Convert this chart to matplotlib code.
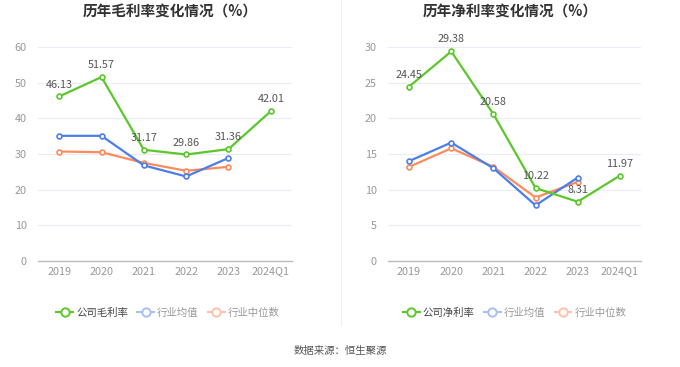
import matplotlib
matplotlib.use("Agg")
import matplotlib.pyplot as plt
from matplotlib.lines import Line2D

plt.rcParams['font.family'] = ['Noto Sans CJK SC', 'DejaVu Sans']

years = ["2019", "2020", "2021", "2022", "2023", "2024Q1"]

gross_company = [46.13, 51.57, 31.17, 29.86, 31.36, 42.01]
gross_avg = [35.1, 35.1, 26.8, 23.7, 28.9]
gross_median = [30.7, 30.5, 27.5, 25.3, 26.4]

net_company = [24.45, 29.38, 20.58, 10.22, 8.31, 11.97]
net_avg = [14.0, 16.6, 13.0, 7.8, 11.7]
net_median = [13.2, 15.8, 13.2, 8.9, 11.1]

titles = ["历年毛利率变化情况（%）", "历年净利率变化情况（%）"]
legend_names = [["公司毛利率", "行业均值", "行业中位数"],
                ["公司净利率", "行业均值", "行业中位数"]]

GREEN = "#5CC72C"
BLUE = "#4C7EEA"
ORANGE = "#FF8A5C"
GRID = "#E8ECF5"

fig = plt.figure(figsize=(6.8, 3.67), dpi=100)

configs = [
    dict(pos=[38/680, 1-261/367, 254/680, 214/367], comp=gross_company, avg=gross_avg,
         med=gross_median, ymax=60, step=10, title=titles[0], names=legend_names[0],
         tx=170/680, lx=0.075),
    dict(pos=[388/680, 1-261/367, 253/680, 214/367], comp=net_company, avg=net_avg,
         med=net_median, ymax=30, step=5, title=titles[1], names=legend_names[1],
         tx=510/680, lx=0.585),
]

for cfg in configs:
    ax = fig.add_axes(cfg["pos"])
    x = list(range(len(years)))
    ax.set_xlim(-0.5, len(years) - 0.5)
    ax.set_ylim(0, cfg["ymax"])
    ax.set_yticks(range(0, cfg["ymax"] + 1, cfg["step"]))
    ax.grid(axis="y", color=GRID, lw=0.8)
    ax.set_axisbelow(True)
    for s in ["top", "right", "left"]:
        ax.spines[s].set_visible(False)
    ax.spines["bottom"].set_color("#BBBBBB")
    ax.spines["bottom"].set_linewidth(1.0)
    ax.set_xticks(x)
    ax.set_xticklabels(years)
    ax.tick_params(axis="x", length=0, colors="#999999", labelsize=7.8, pad=4)
    ax.tick_params(axis="y", length=0, colors="#999999", labelsize=7.8, pad=8)

    mk = dict(marker="o", markersize=3.5, markerfacecolor="white", markeredgewidth=1.2)
    ax.plot(x[:len(cfg["med"])], cfg["med"], color=ORANGE, lw=1.6, markeredgecolor=ORANGE, **mk, zorder=3)
    ax.plot(x[:len(cfg["avg"])], cfg["avg"], color=BLUE, lw=1.6, markeredgecolor=BLUE, **mk, zorder=4)
    ax.plot(x, cfg["comp"], color=GREEN, lw=1.6, markeredgecolor=GREEN, **mk, zorder=5)
    for xi, v in zip(x, cfg["comp"]):
        ax.annotate(f"{v:.2f}", (xi, v), xytext=(0, 5), textcoords="offset points",
                    ha="center", va="bottom", fontsize=7.8, color="#555555", zorder=6)

    fig.text(cfg["tx"], 1 - 12/367, cfg["title"], ha="center", va="center",
             fontsize=10.5, fontweight="bold", color="#333333")

    handles = [
        Line2D([], [], color=GREEN, lw=1.5, marker="o", markersize=6, markerfacecolor="white",
               markeredgecolor=GREEN, markeredgewidth=1.4),
        Line2D([], [], color="#A9C0F5", lw=1.5, marker="o", markersize=6, markerfacecolor="white",
               markeredgecolor="#A9C0F5", markeredgewidth=1.4),
        Line2D([], [], color="#FFC2AA", lw=1.5, marker="o", markersize=6, markerfacecolor="white",
               markeredgecolor="#FFC2AA", markeredgewidth=1.4),
    ]
    leg = fig.legend(handles, cfg["names"], loc="center left",
                     bbox_to_anchor=(cfg["lx"], 1 - 313/367), ncol=3, frameon=False,
                     fontsize=7.5, handlelength=1.6, handletextpad=0.3, columnspacing=0.9,
                     borderpad=0)
    for i, t in enumerate(leg.get_texts()):
        t.set_color("#444444" if i == 0 else "#999999")

fig.add_artist(Line2D([341/680, 341/680], [1 - 325/367, 1.0], color="#EEEEEE", lw=0.8))

fig.text(0.5, 1 - 351/367, "数据来源：恒生聚源", ha="center", va="center", fontsize=7.5, color="#555555")

fig.savefig("out.png", dpi=100, facecolor="white")
